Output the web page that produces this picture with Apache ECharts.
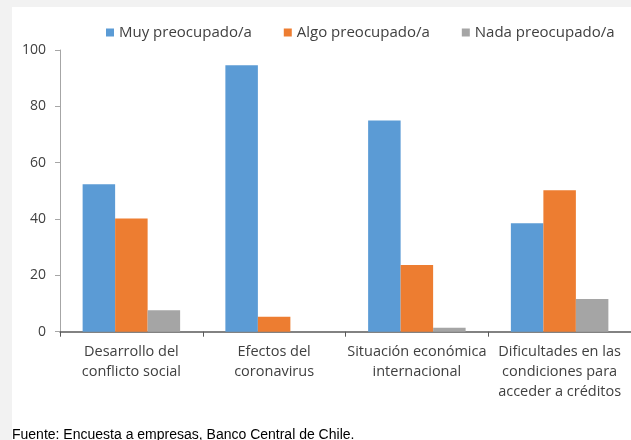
<!DOCTYPE html>
<html>
<head>
<meta charset="utf-8">
<script src="https://cdn.jsdelivr.net/npm/echarts@6/dist/echarts.min.js"></script>
<style>
  html, body { margin: 0; padding: 0; background: #f2f2f2; }
  #panel { position: absolute; left: 12px; top: 7px; width: 619px; height: 433px; background: #ffffff; }
  #chart { position: absolute; left: 0; top: 0; width: 631px; height: 440px; }
</style>
</head>
<body>
<div id="panel"></div>
<div id="chart"></div>
<script>
// categorias y valores (% de empresas)
var categories = [
  'Desarrollo del\nconflicto social',
  'Efectos del\ncoronavirus',
  'Situación económica\ninternacional',
  'Dificultades en las\ncondiciones para\nacceder a créditos'
]
var seriesNames = ['Muy preocupado/a', 'Algo preocupado/a', 'Nada preocupado/a']
var muyValues = [52.3, 94.6, 75.0, 38.5]
var algoValues = [40.2, 5.3, 23.7, 50.2]
var nadaValues = [7.6, 0, 1.4, 11.6]
var yTicks = [0, 20, 40, 60, 80, 100]
var sourceText = 'Fuente: Encuesta a empresas, Banco Central de Chile.'

var chart = echarts.init(document.getElementById('chart'))
var font = '"Open Sans", "Noto Sans", sans-serif'
var textColor = '#404040'

var option = {
  backgroundColor: 'transparent',
  animation: false,
  textStyle: { fontFamily: font },
  legend: {
    data: seriesNames,
    left: 106,
    top: 25,
    padding: 0,
    itemWidth: 8,
    itemHeight: 8,
    itemGap: 32,
    icon: 'rect',
    textStyle: { fontSize: 15, color: textColor, fontFamily: font }
  },
  grid: {
    left: 60,
    top: 50,
    width: 578,
    height: 281.7
  },
  xAxis: {
    type: 'category',
    data: categories,
    axisLine: { lineStyle: { color: '#595959', width: 1.5 } },
    axisTick: { show: true, length: 5, lineStyle: { color: '#595959' } },
    axisLabel: {
      interval: 0,
      margin: 10,
      fontSize: 14.5,
      lineHeight: 20,
      color: textColor,
      fontFamily: font
    }
  },
  yAxis: {
    type: 'value',
    min: yTicks[0],
    max: yTicks[yTicks.length - 1],
    interval: 20,
    splitLine: { show: false },
    axisLine: { show: true, lineStyle: { color: '#a6a6a6', width: 1 } },
    axisTick: { show: true, length: 5, lineStyle: { color: '#a6a6a6' } },
    axisLabel: { margin: 14, fontSize: 14, color: textColor, fontFamily: font }
  },
  series: [
    {
      name: seriesNames[0],
      type: 'bar',
      data: muyValues,
      barWidth: 32.5,
      barGap: '0%',
      itemStyle: { color: '#5b9bd5' }
    },
    {
      name: seriesNames[1],
      type: 'bar',
      data: algoValues,
      barWidth: 32.5,
      barGap: '0%',
      itemStyle: { color: '#ed7d31' }
    },
    {
      name: seriesNames[2],
      type: 'bar',
      data: nadaValues,
      barWidth: 32.5,
      barGap: '0%',
      itemStyle: { color: '#a5a5a5' }
    }
  ],
  graphic: [
    {
      type: 'text',
      left: 12,
      top: 428,
      style: {
        text: sourceText,
        fontSize: 14,
        fontFamily: '"Liberation Sans", Arial, sans-serif',
        fill: '#000000'
      }
    }
  ]
}

chart.setOption(option)
</script>
</body>
</html>
